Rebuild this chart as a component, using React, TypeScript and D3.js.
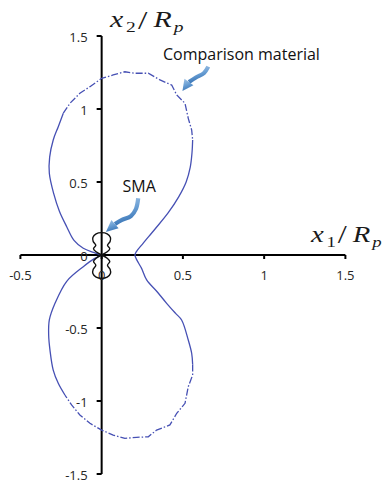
import React from "react";
import * as d3 from "d3";

type Pt = [number, number];

const W = 388;
const H = 484;

const xTicks = [-0.5, 0, 0.5, 1, 1.5];
const xTickLabels = ["-0.5", "0", "0.5", "1", "1.5"];
const yTicks = [-1.5, -1, -0.5, 0, 0.5, 1, 1.5];
const yTickLabels = ["-1.5", "-1", "-0.5", "0", "0.5", "1", "1.5"];

// Comparison material contour, traced counter-clockwise from the origin.
// Smooth inner runs are drawn solid, the outer runs dash-dot.
const cmUpperLeft: Pt[] = [
  [0, 0], [-0.05, 0.018], [-0.113, 0.046], [-0.17, 0.1], [-0.215, 0.194],
  [-0.26, 0.3], [-0.295, 0.42], [-0.322, 0.56], [-0.32, 0.67],
  [-0.298, 0.788], [-0.267, 0.879], [-0.236, 0.971],
];
const cmTop: Pt[] = [
  [-0.236, 0.971], [-0.195, 1.039], [-0.134, 1.108], [-0.072, 1.153],
  [0, 1.21], [0.071, 1.233], [0.143, 1.255], [0.205, 1.245], [0.287, 1.245],
  [0.359, 1.199], [0.431, 1.164], [0.462, 1.096], [0.513, 1.039],
  [0.533, 0.936], [0.554, 0.856], [0.56, 0.788],
];
const cmRight: Pt[] = [
  [0.56, 0.788], [0.556, 0.7], [0.545, 0.6], [0.52, 0.5], [0.475, 0.4],
  [0.41, 0.29], [0.33, 0.18], [0.255, 0.08], [0.215, 0.025], [0.205, 0],
  [0.217, -0.035], [0.245, -0.09], [0.277, -0.171], [0.34, -0.25],
  [0.4, -0.331], [0.455, -0.4], [0.492, -0.445], [0.533, -0.582],
  [0.554, -0.673], [0.56, -0.75],
];
const cmBottom: Pt[] = [
  [0.56, -0.75], [0.56, -0.822], [0.533, -0.902], [0.513, -1.016],
  [0.462, -1.084], [0.42, -1.164], [0.338, -1.199], [0.287, -1.245],
  [0.215, -1.249], [0.143, -1.256], [0.071, -1.233], [0, -1.199],
  [-0.072, -1.153], [-0.134, -1.096], [-0.185, -1.027], [-0.226, -0.959],
];
const cmLowerLeft: Pt[] = [
  [-0.226, -0.959], [-0.267, -0.879], [-0.298, -0.788], [-0.318, -0.651],
  [-0.326, -0.55], [-0.322, -0.445], [-0.287, -0.331], [-0.215, -0.18],
  [-0.113, -0.08], [-0.045, -0.025], [0, 0],
];

// SMA contour: a small figure-eight through the origin
const smaUpper: Pt[] = [
  [0, 0], [-0.034, 0.022], [-0.05, 0.043], [-0.036, 0.066], [-0.052, 0.092],
  [-0.054, 0.12], [-0.034, 0.145], [0, 0.153], [0.034, 0.145], [0.054, 0.12],
  [0.052, 0.092], [0.036, 0.066], [0.05, 0.043], [0.034, 0.022], [0, 0],
];
const smaLower: Pt[] = [
  [0, 0], [-0.034, -0.022], [-0.05, -0.045], [-0.036, -0.07], [-0.052, -0.098],
  [-0.054, -0.127], [-0.034, -0.152], [0, -0.16], [0.034, -0.152], [0.054, -0.127],
  [0.052, -0.098], [0.036, -0.07], [0.05, -0.045], [0.034, -0.022], [0, 0],
];

// Callout arrows (shaft points, last entry is the arrow tip)
const smaArrow: Pt[] = [
  [0.225, 0.388], [0.211, 0.315], [0.18, 0.267], [0.125, 0.24], [0.082, 0.212], [0.026, 0.158],
];
const cmArrow: Pt[] = [
  [0.656, 1.29], [0.63, 1.247], [0.58, 1.216], [0.537, 1.185], [0.497, 1.123],
];

const x = d3.scaleLinear().domain([-0.5, 1.5]).range([20.4, 345.4]);
const y = d3.scaleLinear().domain([-1.5, 1.5]).range([474, 36]);

const smooth = d3
  .line<Pt>()
  .x((d) => x(d[0]))
  .y((d) => y(d[1]))
  .curve(d3.curveCatmullRom.alpha(0.5));
const jagged = d3
  .line<Pt>()
  .x((d) => x(d[0]))
  .y((d) => y(d[1]))
  .curve(d3.curveLinear);

const CURVE = "#4650b4";
const tickFont = { fontFamily: "'Open Sans', sans-serif", fontSize: 13, fill: "#262626" };

function Arrow({ pts, id }: { pts: Pt[]; id: string }) {
  const shaft = pts.slice(0, -1);
  const tip = pts[pts.length - 1];
  const bx = x(shaft[shaft.length - 1][0]);
  const by = y(shaft[shaft.length - 1][1]);
  const tx = x(tip[0]);
  const ty = y(tip[1]);
  const len = Math.hypot(tx - bx, ty - by);
  const ux = (tx - bx) / len;
  const uy = (ty - by) / len;
  const hw = 5.5;
  const head = `M${tx},${ty}L${bx - uy * hw},${by + ux * hw}L${bx + uy * hw},${by - ux * hw}Z`;
  return (
    <g>
      <path d={smooth(shaft) ?? ""} fill="none" stroke={`url(#${id})`} strokeWidth={4.2} strokeLinecap="butt" />
      <path d={head} fill={`url(#${id})`} />
    </g>
  );
}

function MathLabel({ px, py, sx, sub1, sub2 }: { px: number; py: number; sx: number; sub1: string; sub2: string }) {
  const serif = "'Liberation Serif', 'DejaVu Serif', serif";
  return (
    <g transform={`translate(${px},${py}) scale(${sx},1)`} fill="#1a1a1a" fontFamily={serif}>
      <text x={0} y={0} fontSize={23} fontStyle="italic">x</text>
      <text x={12.4} y={5} fontSize={15}>{sub1}</text>
      <text x={21.5} y={1.5} fontSize={26}>/</text>
      <text x={33.5} y={0} fontSize={23} fontStyle="italic">R</text>
      <text x={49} y={5} fontSize={15} fontStyle="italic">{sub2}</text>
    </g>
  );
}

export default function App() {
  return (
    <svg
      width={W}
      height={H}
      viewBox={`0 0 ${W} ${H}`}
      style={{ position: "absolute", left: 0, top: 0, background: "#fff" }}
    >
      <defs>
        <linearGradient id="arrowGrad" x1="0" y1="0" x2="0.3" y2="1">
          <stop offset="0" stopColor="#a7c7e7" />
          <stop offset="0.55" stopColor="#6a9fd4" />
          <stop offset="1" stopColor="#3d78b8" />
        </linearGradient>
      </defs>

      {/* axes through the origin */}
      <line x1={x(-0.5)} x2={x(1.5)} y1={y(0)} y2={y(0)} stroke="#000" strokeWidth={2} />
      <line x1={x(0)} x2={x(0)} y1={y(1.5)} y2={y(-1.5)} stroke="#000" strokeWidth={2} />
      {xTicks.map((t, i) => (
        <g key={`xt${i}`}>
          <line x1={x(t)} x2={x(t)} y1={y(0)} y2={y(0) + 4} stroke="#000" strokeWidth={2} />
          <text x={x(t)} y={y(0) + 25} textAnchor="middle" {...tickFont}>
            {xTickLabels[i]}
          </text>
        </g>
      ))}
      {yTicks.map((t, i) => (
        <g key={`yt${i}`}>
          <line x1={x(0) - 5} x2={x(0)} y1={y(t)} y2={y(t)} stroke="#000" strokeWidth={2} />
          <text x={x(0) - 14} y={y(t) + 5.5} textAnchor="end" {...tickFont}>
            {yTickLabels[i]}
          </text>
        </g>
      ))}

      {/* comparison material */}
      <g fill="none" stroke={CURVE} strokeWidth={1.3}>
        <path d={smooth(cmUpperLeft) ?? ""} />
        <path d={jagged(cmTop) ?? ""} strokeDasharray="7,2,1.5,2" />
        <path d={smooth(cmRight) ?? ""} />
        <path d={jagged(cmBottom) ?? ""} strokeDasharray="7,2,1.5,2" />
        <path d={smooth(cmLowerLeft) ?? ""} />
      </g>

      {/* SMA */}
      <g fill="none" stroke="#111" strokeWidth={1.4}>
        <path d={smooth(smaUpper) ?? ""} />
        <path d={smooth(smaLower) ?? ""} />
      </g>

      {/* callouts */}
      <Arrow pts={smaArrow} id="arrowGrad" />
      <Arrow pts={cmArrow} id="arrowGrad" />
      <text x={122.5} y={191.5} fontFamily="'Open Sans', sans-serif" fontSize={16} fill="#111">
        SMA
      </text>
      <text x={163} y={59.5} fontFamily="'Open Sans', sans-serif" fontSize={16} fill="#111">
        Comparison material
      </text>

      {/* axis titles */}
      <MathLabel px={110} py={27} sx={1.3} sub1="2" sub2="p" />
      <MathLabel px={311} py={241.5} sx={1.25} sub1="1" sub2="p" />
    </svg>
  );
}
